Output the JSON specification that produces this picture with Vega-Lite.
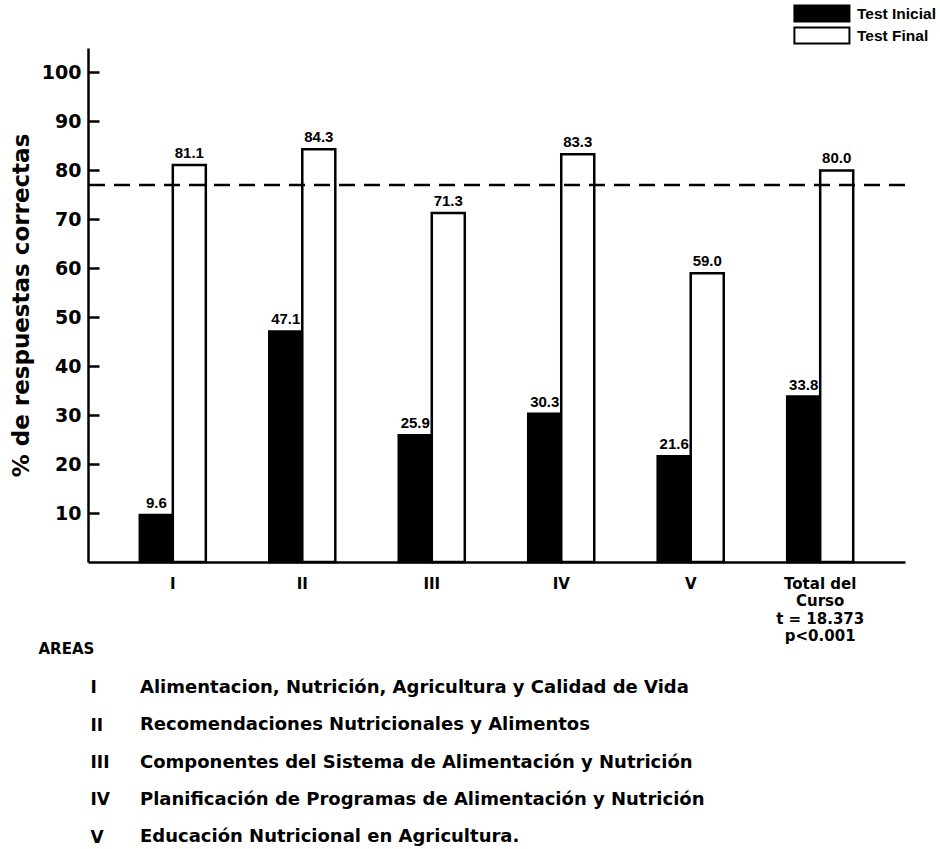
{
  "$schema": "https://vega.github.io/schema/vega-lite/v6.json",
  "padding": {"left": 10, "top": 4, "right": 35, "bottom": 0},
  "bounds": "flush",
  "spacing": 107,
  "config": {
    "view": {"stroke": null},
    "font": "DejaVu Sans",
    "axis": {"labelFont": "DejaVu Sans", "titleFont": "DejaVu Sans", "labelColor": "black", "titleColor": "black"},
    "legend": {"labelFont": "Liberation Sans", "labelColor": "black"}
  },
  "datasets": {
    "bars": [
      {"area": "I", "test": "Test Inicial", "value": 9.6},
      {"area": "I", "test": "Test Final", "value": 81.1},
      {"area": "II", "test": "Test Inicial", "value": 47.1},
      {"area": "II", "test": "Test Final", "value": 84.3},
      {"area": "III", "test": "Test Inicial", "value": 25.9},
      {"area": "III", "test": "Test Final", "value": 71.3},
      {"area": "IV", "test": "Test Inicial", "value": 30.3},
      {"area": "IV", "test": "Test Final", "value": 83.3},
      {"area": "V", "test": "Test Inicial", "value": 21.6},
      {"area": "V", "test": "Test Final", "value": 59.0},
      {"area": "Total", "test": "Test Inicial", "value": 33.8},
      {"area": "Total", "test": "Test Final", "value": 80.0}
    ],
    "ref": [{"value": 77}],
    "areas": [
      {"num": "I", "text": "Alimentacion, Nutrición, Agricultura y Calidad de Vida"},
      {"num": "II", "text": "Recomendaciones Nutricionales y Alimentos"},
      {"num": "III", "text": "Componentes del Sistema de Alimentación y Nutrición"},
      {"num": "IV", "text": "Planificación de Programas de Alimentación y Nutrición"},
      {"num": "V", "text": "Educación Nutricional en Agricultura."}
    ]
  },
  "vconcat": [
    {
      "width": 817,
      "height": 514,
      "encoding": {
        "x": {
          "field": "area", "type": "nominal",
          "sort": ["I", "II", "III", "IV", "V", "Total"],
          "scale": {"paddingInner": 0.49, "paddingOuter": 0.4},
          "axis": {
            "title": "AREAS", "titleX": -50, "titleY": 86, "titleAlign": "left", "titleBaseline": "middle",
            "titleFontSize": 15, "titleFontWeight": "bold",
            "labelAngle": 0, "labelFontSize": 15, "labelFontWeight": "bold", "labelBaseline": "top",
            "labelLineHeight": 17.5, "labelPadding": 14, "ticks": false,
            "domainColor": "black", "domainWidth": 2.5,
            "labelExpr": "datum.value == 'Total' ? ['Total del', 'Curso', 't = 18.373', 'p<0.001'] : datum.value"
          }
        },
        "xOffset": {"field": "test", "type": "nominal", "sort": ["Test Inicial", "Test Final"], "scale": {"paddingInner": 0, "paddingOuter": 0}},
        "y": {
          "field": "value", "type": "quantitative",
          "scale": {"domain": [0, 105]},
          "axis": {
            "values": [10, 20, 30, 40, 50, 60, 70, 80, 90, 100],
            "title": "% de respuestas correctas", "titleFontSize": 23, "titleFontWeight": "bold", "titlePadding": 8,
            "labelFontSize": 19, "labelFontWeight": "bold", "labelPadding": 18,
            "tickSize": -11, "tickWidth": 2.5, "tickColor": "black",
            "domainColor": "black", "domainWidth": 2.5, "grid": false
          }
        }
      },
      "layer": [
        {
          "data": {"name": "bars"},
          "mark": {"type": "bar", "stroke": "black", "strokeWidth": 2.5},
          "encoding": {
            "fill": {
              "field": "test", "type": "nominal",
              "scale": {"domain": ["Test Inicial", "Test Final"], "range": ["black", "white"]},
              "legend": {
                "title": null, "orient": "none", "legendX": 705, "legendY": -44,
                "symbolType": "M-1,-1h6.8v2h-6.8z", "symbolSize": 262,
                "symbolStrokeColor": "black", "symbolStrokeWidth": 2, "symbolOpacity": 1,
                "labelFontSize": 15.5, "labelFontWeight": "bold", "labelOffset": 45, "rowPadding": -4
              }
            }
          }
        },
        {
          "data": {"name": "bars"},
          "mark": {"type": "text", "dy": -4, "baseline": "bottom", "fontWeight": "bold", "fontSize": 15, "font": "Liberation Sans", "color": "black"},
          "encoding": {"text": {"field": "value", "type": "quantitative", "format": ".1f"}}
        },
        {
          "data": {"name": "ref"},
          "mark": {"type": "rule", "strokeDash": [16, 9], "strokeWidth": 2.5, "color": "black"},
          "encoding": {"y": {"field": "value", "type": "quantitative"}, "x": null, "xOffset": null}
        }
      ]
    },
    {
      "width": 817,
      "height": 187,
      "data": {"name": "areas"},
      "mark": {"type": "text", "align": "left", "dx": 52, "fontSize": 18, "fontWeight": "bold", "font": "DejaVu Sans", "color": "black"},
      "encoding": {
        "y": {
          "field": "num", "type": "ordinal", "sort": ["I", "II", "III", "IV", "V"],
          "axis": {"title": null, "domain": false, "ticks": false, "labelAlign": "left", "labelPadding": -2, "labelFontSize": 17, "labelFontWeight": "bold"}
        },
        "x": {"datum": 0, "type": "quantitative", "scale": {"domain": [0, 1]}, "axis": null},
        "text": {"field": "text"}
      }
    }
  ]
}
